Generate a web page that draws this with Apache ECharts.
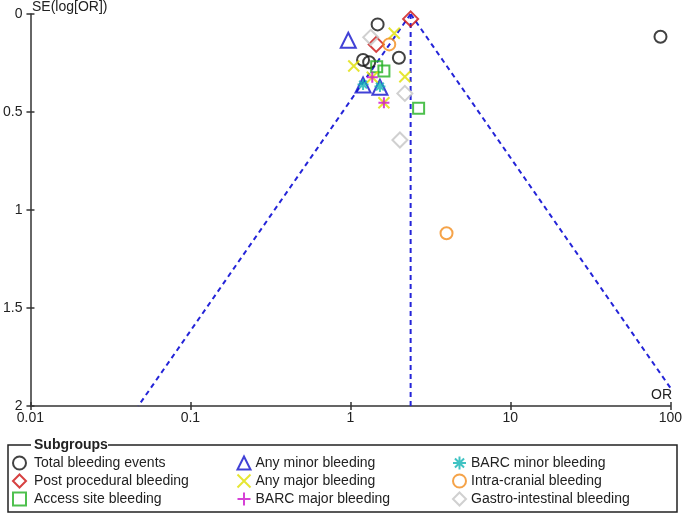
<!DOCTYPE html>
<html>
<head>
<meta charset="utf-8">
<script src="https://cdn.jsdelivr.net/npm/echarts@6/dist/echarts.min.js"></script>
<style>html,body{margin:0;padding:0;background:#fff}#c{width:685px;height:515px}</style>
</head>
<body>
<div id="c"></div>
<script>
// ---- data (OR, SE) ----
var totalBleeding   = [[1.48,0.053],[1.20,0.235],[1.31,0.246],[2.01,0.223],[86.8,0.116]];
var postProcedural  = [[2.38,0.025],[1.45,0.155]];
var accessSite      = [[1.46,0.269],[1.62,0.291],[2.67,0.481]];
var anyMinor        = [[0.97,0.134],[1.20,0.362],[1.53,0.374]];
var anyMajor        = [[1.88,0.098],[1.05,0.265],[2.19,0.320],[1.62,0.453],[1.37,0.323]];
var barcMajor       = [[1.37,0.323],[1.62,0.453]];
var barcMinor       = [[1.20,0.360],[1.53,0.370]];
var intraCranial    = [[1.75,0.155],[3.99,1.119]];
var gastroIntestinal= [[1.34,0.119],[2.19,0.405],[2.04,0.643]];

var funnelLeft  = [[2.38,0],[0.0472,2]];
var funnelRight = [[2.38,0],[120,2]];
var funnelMid   = [[2.38,0],[2.38,2]];

var xTicks = [0.01, 0.1, 1, 10, 100];
var yTicks = [0, 0.5, 1, 1.5, 2];

var FONT = 'Liberation Sans, Arial, sans-serif';
var FS = 14;
var chart = echarts.init(document.getElementById('c'), null, {renderer:'canvas'});

var P_X = 'path://M0,0L10,10M10,0L0,10';
var P_PLUS = 'path://M5,0L5,10M0,5L10,5';
var P_AST = 'path://M5,0L5,10M0,5L10,5M1.5,1.5L8.5,8.5M8.5,1.5L1.5,8.5';

function sc(name, data, symbol, color, size){
  return {
    name: name, type: 'scatter', data: data, symbol: symbol, symbolSize: size,
    xAxisIndex: 0, yAxisIndex: 0, z: 5,
    itemStyle: {color: 'rgba(0,0,0,0)', borderColor: color, borderWidth: 2},
    emphasis: {disabled: true}
  };
}
function ln(data){
  return {
    type: 'line', data: data, symbol: 'none', xAxisIndex: 0, yAxisIndex: 0, z: 2,
    lineStyle: {color: '#2424d8', width: 2, type: [5,4]}, silent: true, clip: true
  };
}

var col1 = ['Total bleeding events','Post procedural bleeding','Access site bleeding'];
var col2 = ['Any minor bleeding','Any major bleeding','BARC major bleeding'];
var col3 = ['BARC minor bleeding','Intra-cranial bleeding','Gastro-intestinal bleeding'];

function leg(data, left, pad){
  return {
    data: data, orient: 'vertical', left: left, top: 455.5, itemWidth: 13, itemHeight: 13,
    itemGap: 3, padding: 0, height: 60, selectedMode: false,
    textStyle: {fontFamily: FONT, fontSize: FS, lineHeight: 13, color: '#222', padding: [0,0,0,pad]}
  };
}

var tickStyle = {color: '#333', width: 1.5};

chart.setOption({
  animation: false,
  backgroundColor: '#fff',
  grid: {left: 26, right: 11, top: 14, bottom: 109, containLabel: false},
  xAxis: [
    {
      type: 'log', logBase: 10, min: xTicks[0], max: xTicks[xTicks.length-1], position: 'bottom',
      axisLine: {show: true, onZero: false, lineStyle: {color: '#333', width: 1.5}},
      splitLine: {show: false},
      axisTick: {show: true, length: 4, lineStyle: tickStyle},
      axisLabel: {fontFamily: FONT, fontSize: FS, color: '#222', margin: 5,
        formatter: function(v){ return String(+v.toPrecision(3)); }},
      minorTick: {show: false}
    },
    {
      type: 'log', logBase: 10, min: xTicks[0], max: xTicks[xTicks.length-1], position: 'bottom', offset: 0,
      axisLine: {show: false, onZero: false}, splitLine: {show: false}, axisLabel: {show: false},
      axisTick: {show: true, inside: true, length: 4, lineStyle: tickStyle}
    }
  ],
  yAxis: [
    {
      type: 'value', inverse: true, min: yTicks[0], max: yTicks[yTicks.length-1], interval: 0.5, position: 'left',
      axisLine: {show: true, onZero: false, lineStyle: {color: '#333', width: 1.5}},
      splitLine: {show: false},
      axisTick: {show: true, length: 4, lineStyle: tickStyle},
      axisLabel: {fontFamily: FONT, fontSize: FS, color: '#222', margin: 8}
    },
    {
      type: 'value', inverse: true, min: yTicks[0], max: yTicks[yTicks.length-1], interval: 0.5, position: 'left', offset: 0,
      axisLine: {show: false, onZero: false}, splitLine: {show: false}, axisLabel: {show: false},
      axisTick: {show: true, inside: true, length: 4, lineStyle: tickStyle}
    }
  ],
  legend: [leg(col1, 12, 3), leg(col2, 236.5, 0), leg(col3, 452, 0)],
  graphic: [
    {type: 'polyline', shape: {points: [[31,445],[8,445],[8,512],[677,512],[677,445],[108,445]]},
      style: {stroke: '#222', lineWidth: 1.5, fill: null}, silent: true},
    {type: 'text', left: 34, top: 438, style: {text: 'Subgroups', font: 'bold ' + FS + 'px ' + FONT, fill: '#222'}},
    {type: 'text', left: 32, top: 0, style: {text: 'SE(log[OR])', font: FS + 'px ' + FONT, fill: '#222'}},
    {type: 'text', left: 651, top: 388, style: {text: 'OR', font: FS + 'px ' + FONT, fill: '#222'}}
  ],
  series: [
    ln(funnelLeft), ln(funnelRight), ln(funnelMid),
    sc('Total bleeding events', totalBleeding, 'circle', '#111', 12),
    sc('Post procedural bleeding', postProcedural, 'diamond', '#cc1111', 15),
    sc('Access site bleeding', accessSite, 'rect', '#22b022', 11),
    sc('Any minor bleeding', anyMinor, 'triangle', '#1111cc', 15),
    sc('Any major bleeding', anyMajor, P_X, '#e0e000', 11),
    sc('BARC major bleeding', barcMajor, P_PLUS, '#cc11cc', 11),
    sc('BARC minor bleeding', barcMinor, P_AST, '#11b4b4', 11),
    sc('Intra-cranial bleeding', intraCranial, 'circle', '#f28c1c', 12),
    sc('Gastro-intestinal bleeding', gastroIntestinal, 'diamond', '#c4c4c4', 15)
  ]
});
</script>
</body>
</html>
